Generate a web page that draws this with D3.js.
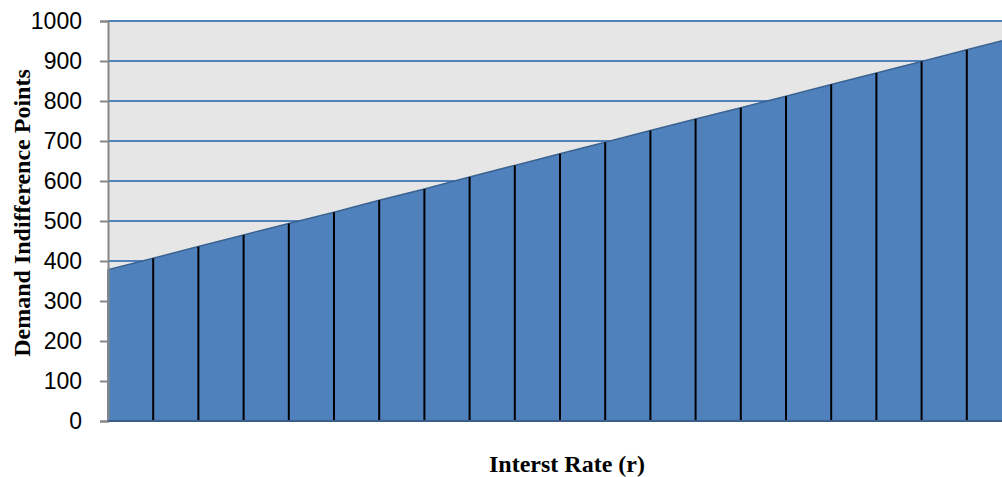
<!DOCTYPE html>
<html>
<head>
<meta charset="utf-8">
<script src="https://cdn.jsdelivr.net/npm/d3@7"></script>
<style>
  body { margin: 0; background: #fff; }
  svg { display: block; }
</style>
</head>
<body>
<svg id="chart" width="1002" height="477"></svg>
<script>
// categories along the x axis (no labels shown in the chart)
var categories = ["1", "2", "3", "4", "5", "6", "7", "8", "9", "10", "11",
                  "12", "13", "14", "15", "16", "17", "18", "19", "20", "21"];

// demand indifference points
var demandPoints = [378, 407, 436, 465, 494, 522, 552, 580, 610, 639, 668,
                    697, 726, 755, 783, 812, 841, 870, 899, 928, 957];

var yTicks = [0, 100, 200, 300, 400, 500, 600, 700, 800, 900, 1000];

var svg = d3.select("#chart");

var plotLeft = 108, plotTop = 21, plotBottom = 421, plotRight = 1012;

var x = d3.scalePoint()
  .domain(categories)
  .range([plotLeft, plotRight]);

var y = d3.scaleLinear()
  .domain([0, 1000])
  .range([plotBottom, plotTop]);

// plot background
svg.append("rect")
  .attr("x", plotLeft)
  .attr("y", plotTop)
  .attr("width", plotRight - plotLeft)
  .attr("height", plotBottom - plotTop)
  .attr("fill", "#e6e6e6");

// gridlines
svg.append("g")
  .selectAll("line")
  .data(yTicks.slice(1))
  .enter()
  .append("line")
  .attr("x1", plotLeft)
  .attr("x2", plotRight)
  .attr("y1", function (d) { return y(d); })
  .attr("y2", function (d) { return y(d); })
  .attr("stroke", "#4f81bd")
  .attr("stroke-width", 2);

// the area
var area = d3.area()
  .x(function (d, i) { return x(categories[i]); })
  .y0(plotBottom)
  .y1(function (d) { return y(d); });

svg.append("path")
  .datum(demandPoints)
  .attr("d", area)
  .attr("fill", "#4f81bd")
  .attr("stroke", "#3b6391")
  .attr("stroke-width", 1.5);

// drop lines
svg.append("g")
  .selectAll("line")
  .data(demandPoints.slice(1))
  .enter()
  .append("line")
  .attr("x1", function (d, i) { return x(categories[i + 1]); })
  .attr("x2", function (d, i) { return x(categories[i + 1]); })
  .attr("y1", function (d) { return y(d); })
  .attr("y2", plotBottom)
  .attr("stroke", "#000")
  .attr("stroke-width", 2);

// y axis
var yAxis = d3.axisLeft(y)
  .tickValues(yTicks)
  .tickSize(8)
  .tickPadding(18)
  .tickFormat(d3.format("d"));

var gy = svg.append("g")
  .attr("transform", "translate(" + plotLeft + ",0)")
  .call(yAxis);

gy.select(".domain").attr("stroke", "#868686").attr("stroke-width", 2);
gy.selectAll(".tick line").attr("stroke", "#868686").attr("stroke-width", 2);
gy.selectAll(".tick text")
  .attr("fill", "#000")
  .style("font-family", "'Liberation Sans', Arial, sans-serif")
  .style("font-size", "23px");

// bottom axis line
svg.append("line")
  .attr("x1", plotLeft)
  .attr("x2", plotRight)
  .attr("y1", plotBottom)
  .attr("y2", plotBottom)
  .attr("stroke", "#3b5f8c")
  .attr("stroke-width", 2);

// axis titles
svg.append("text")
  .attr("x", 567)
  .attr("y", 472)
  .attr("text-anchor", "middle")
  .style("font-family", "'Liberation Serif', 'Times New Roman', serif")
  .style("font-weight", "bold")
  .style("font-size", "24px")
  .text("Interst Rate (r)");

svg.append("text")
  .attr("transform", "translate(30,213) rotate(-90)")
  .attr("text-anchor", "middle")
  .style("font-family", "'Liberation Serif', 'Times New Roman', serif")
  .style("font-weight", "bold")
  .style("font-size", "24px")
  .text("Demand Indifference Points");
</script>
</body>
</html>
